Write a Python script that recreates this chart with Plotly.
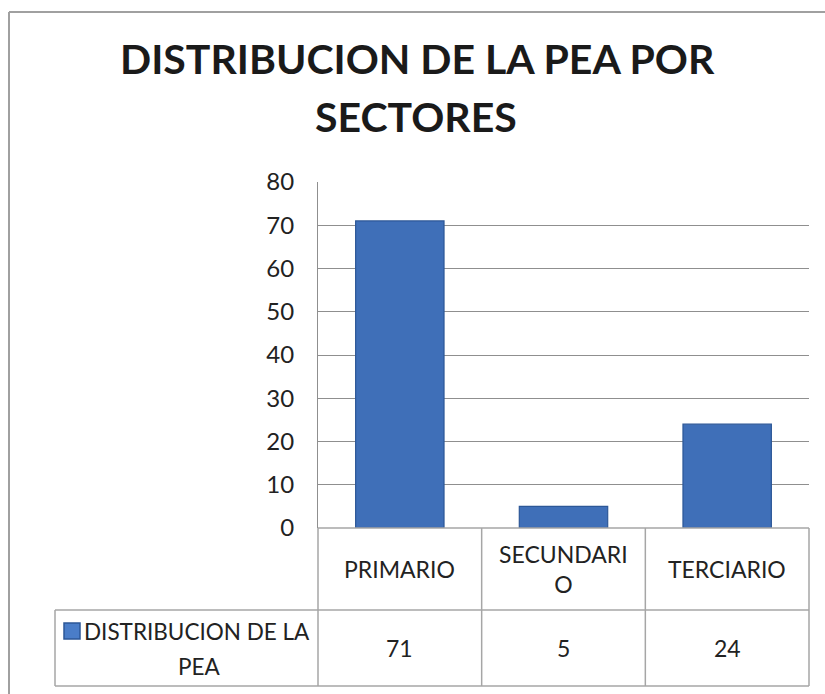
import plotly.graph_objects as go

# ---- data ----
categories = ["PRIMARIO", "SECUNDARIO", "TERCIARIO"]
category_labels = ["PRIMARIO", "SECUNDARI<br>O", "TERCIARIO"]
values = [71, 5, 24]
series_name = "DISTRIBUCION DE LA PEA"
series_label_lines = ["DISTRIBUCION DE LA", "PEA"]
title_lines = ["DISTRIBUCION DE LA PEA POR", "SECTORES"]
y_ticks = [0, 10, 20, 30, 40, 50, 60, 70, 80]

W, H = 825, 694
FONT = "Lato"
GRID = "#8f8f8f"
TABLE = "#a6a6a6"
TXT = "#222222"
BAR = "#3F6FB8"


def px(x):
    return x / W


def py(y):
    return 1 - y / H


# plot area in pixels
X0, X1 = 318, 809
Y_TOP, Y_ZERO = 182, 528
ROW1, ROW2 = 610, 686
LEG_X = 55

fig = go.Figure()
fig.add_trace(go.Bar(
    x=categories, y=values, name=series_name,
    marker=dict(color=BAR, line=dict(color="#2C5797", width=1.2)),
    width=0.54, showlegend=False,
))

fig.update_layout(
    width=W, height=H, autosize=False,
    margin=dict(l=0, r=0, t=0, b=0, pad=0, autoexpand=False),
    paper_bgcolor="white", plot_bgcolor="white",
    font=dict(family=FONT, color=TXT, size=23),
    xaxis=dict(domain=[px(X0), px(X1)], showticklabels=False, showgrid=False,
               zeroline=False, showline=False, ticks="", automargin=False),
    yaxis=dict(domain=[py(Y_ZERO), py(Y_TOP)], range=[0, 80], tickvals=y_ticks,
               showgrid=True, gridcolor=GRID, gridwidth=1, zeroline=False,
               showline=True, linecolor=GRID, linewidth=1, ticks="",
               tickfont=dict(size=24, color=TXT), ticklabelstandoff=18,
               automargin=False),
)

shapes = []
# outer chart border (left and top)
shapes.append(dict(type="line", xref="paper", yref="paper", x0=px(9), x1=px(9),
                   y0=py(12), y1=0, line=dict(color="#a0a0a0", width=2)))
shapes.append(dict(type="line", xref="paper", yref="paper", x0=px(9), x1=1,
                   y0=py(12), y1=py(12), line=dict(color="#a0a0a0", width=2)))
# data table horizontal lines
shapes.append(dict(type="line", xref="paper", yref="paper", x0=px(X0), x1=px(X1),
                   y0=py(Y_ZERO), y1=py(Y_ZERO), line=dict(color=TABLE, width=1.5)))
for yy in (ROW1, ROW2):
    shapes.append(dict(type="line", xref="paper", yref="paper", x0=px(LEG_X), x1=px(X1),
                       y0=py(yy), y1=py(yy), line=dict(color=TABLE, width=1.5)))
# vertical table lines
ncat = len(categories)
for i in range(ncat + 1):
    xx = X0 + (X1 - X0) * i / ncat
    shapes.append(dict(type="line", xref="paper", yref="paper", x0=px(xx), x1=px(xx),
                       y0=py(Y_ZERO), y1=py(ROW2), line=dict(color=TABLE, width=1.5)))
shapes.append(dict(type="line", xref="paper", yref="paper", x0=px(LEG_X), x1=px(LEG_X),
                   y0=py(ROW1), y1=py(ROW2), line=dict(color=TABLE, width=1.5)))
# legend key square in the table
shapes.append(dict(type="rect", xref="paper", yref="paper", x0=px(64), x1=px(80),
                   y0=py(639), y1=py(623), fillcolor="#4A7DC8",
                   line=dict(color="#2C5797", width=1.5)))
fig.update_layout(shapes=shapes)

ann = []
for line, (cx, cy) in zip(title_lines, [(417, 58), (416, 117)]):
    ann.append(dict(text="<b>" + line + "</b>", xref="paper", yref="paper",
                    x=px(cx), y=py(cy), showarrow=False, xanchor="center", yanchor="middle",
                    font=dict(size=41, color="#1a1a1a", family=FONT)))
for c, lab in zip(categories, category_labels):
    ann.append(dict(text=lab, xref="x", yref="paper", x=c, y=py((Y_ZERO + ROW1) / 2),
                    showarrow=False, yanchor="middle", font=dict(size=23, color=TXT)))
for c, v in zip(categories, values):
    ann.append(dict(text=str(v), xref="x", yref="paper", x=c, y=py((ROW1 + ROW2) / 2),
                    showarrow=False, yanchor="middle", font=dict(size=23, color=TXT)))
for line, (cx, cy) in zip(series_label_lines, [(197, 631), (199, 666)]):
    ann.append(dict(text=line, xref="paper", yref="paper", x=px(cx), y=py(cy),
                    showarrow=False, xanchor="center", yanchor="middle",
                    font=dict(size=22.5, color=TXT)))
fig.update_layout(annotations=ann)

fig.write_html("out.html", config={"displayModeBar": False, "responsive": False},
               post_script="document.body.style.margin='0';document.body.style.overflow='hidden';")
